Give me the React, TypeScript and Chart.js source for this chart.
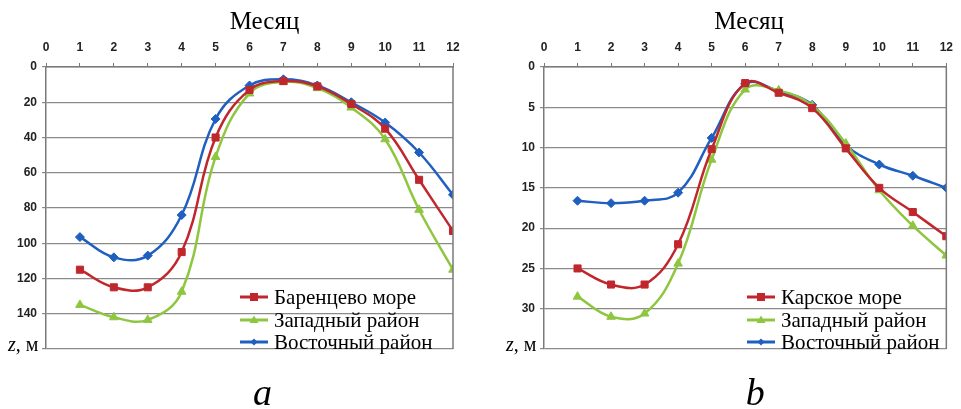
import React, { useEffect, useRef } from "react";
import { Chart, registerables } from "chart.js";

Chart.register(...registerables);

const months = [1, 2, 3, 4, 5, 6, 7, 8, 9, 10, 11, 12];

// Panel a — Barents Sea
const barentsDepth = [115, 125, 125, 105, 40, 13, 8, 11, 21, 35, 64, 93];
const westADepth = [135, 142, 143.5, 127.5, 51, 15, 8.5, 12, 23, 41, 81, 115];
const eastADepth = [96.5, 108, 107, 84, 29.5, 10.5, 7, 10.5, 20, 31.5, 48.5, 72.5];

// Panel b — Kara Sea
const karaDepth = [25, 27, 27, 22, 10.2, 2, 3.2, 5.1, 10.1, 15, 18, 21];
const westBDepth = [28.5, 31, 30.6, 24.4, 11.5, 2.8, 2.9, 4.8, 9.5, 15.3, 19.7, 23.4];
const eastBDepth = [16.6, 16.9, 16.6, 15.6, 8.8, 2.1, 3, 4.7, 9.7, 12.1, 13.5, 15];

const namesA = ["Баренцево море", "Западный район", "Восточный район"];
const namesB = ["Карское море", "Западный район", "Восточный район"];
const axisTitle = "Месяц";

const RED = "#C0272D";
const GREEN = "#8EC63F";
const BLUE = "#1F5FBF";
const AXIS = "#7a7a7a";

const styles = [
  { color: RED, point: "rect", radius: 5 },
  { color: GREEN, point: "triangle", radius: 5 },
  { color: BLUE, point: "rectRot", radius: 4.5 },
];

function makeDatasets(names: string[], series: number[][]) {
  return series.map((vals, i) => ({
    label: names[i],
    data: months.map((m, j) => ({ x: m, y: vals[j] })),
    borderColor: styles[i].color,
    backgroundColor: styles[i].color,
    pointStyle: styles[i].point,
    pointRadius: styles[i].radius,
    pointBorderWidth: 1,
    borderWidth: 2.5,
    tension: 0.4,
    fill: false,
  }));
}

function makeConfig(
  names: string[],
  series: number[][],
  yMax: number,
  yStep: number,
  rightPad: number,
  legendLineX: number,
  panelLetter: string,
  titleShift: number,
  letterShift: number
): any {
  const frame = {
    id: "frame",
    afterDraw(chart: any) {
      const { ctx, chartArea } = chart;
      const midX = (chartArea.left + chartArea.right) / 2;
      ctx.save();
      ctx.strokeStyle = AXIS;
      ctx.lineWidth = 1.5;
      ctx.beginPath();
      ctx.moveTo(chartArea.right, chartArea.top);
      ctx.lineTo(chartArea.right, chartArea.bottom);
      ctx.stroke();
      // axis title
      ctx.fillStyle = "#000";
      ctx.textAlign = "center";
      ctx.textBaseline = "middle";
      ctx.font = "25px 'Liberation Serif'";
      ctx.fillText(axisTitle, midX + titleShift, 22);
      // z, м label
      ctx.textBaseline = "middle";
      ctx.textAlign = "left";
      ctx.font = "italic 20px 'Liberation Serif'";
      const zx = chartArea.left - 38;
      const zy = chartArea.bottom - 3;
      ctx.fillText("z", zx, zy);
      const zw = ctx.measureText("z").width;
      ctx.font = "20px 'Liberation Serif'";
      ctx.fillText(", м", zx + zw, zy);
      // legend
      const rows = [297, 320, 342];
      chart.data.datasets.forEach((ds: any, i: number) => {
        const y = rows[i];
        ctx.strokeStyle = ds.borderColor;
        ctx.lineWidth = 3;
        ctx.beginPath();
        ctx.moveTo(legendLineX, y);
        ctx.lineTo(legendLineX + 28, y);
        ctx.stroke();
        ctx.fillStyle = ds.borderColor;
        const cx = legendLineX + 14;
        ctx.beginPath();
        if (ds.pointStyle === "rect") {
          ctx.rect(cx - 4, y - 4, 8, 8);
        } else if (ds.pointStyle === "triangle") {
          ctx.moveTo(cx, y - 4.5);
          ctx.lineTo(cx + 4.5, y + 3);
          ctx.lineTo(cx - 4.5, y + 3);
          ctx.closePath();
        } else {
          ctx.moveTo(cx, y - 3.5);
          ctx.lineTo(cx + 3.5, y);
          ctx.lineTo(cx, y + 3.5);
          ctx.lineTo(cx - 3.5, y);
          ctx.closePath();
        }
        ctx.fill();
        ctx.fillStyle = "#000";
        ctx.font = "21px 'Liberation Serif'";
        ctx.textBaseline = "middle";
        ctx.fillText(ds.label, legendLineX + 34, y + 1);
      });
      // panel letter
      ctx.font = "italic 38px 'Liberation Serif'";
      ctx.textAlign = "center";
      ctx.textBaseline = "alphabetic";
      ctx.fillText(panelLetter, midX + letterShift, 405);
      ctx.restore();
    },
  };

  return {
    type: "line",
    data: { datasets: makeDatasets(names, series) },
    options: {
      animation: false,
      responsive: false,
      devicePixelRatio: 1,
      layout: { padding: { left: 0, top: 0, right: rightPad, bottom: 60 } },
      plugins: {
        legend: { display: false },
        tooltip: { enabled: false },
      },
      scales: {
        x: {
          type: "linear",
          position: "top",
          min: 0,
          max: 12,
          ticks: {
            stepSize: 1,
            padding: 8,
            color: "#222",
            font: { family: "'Liberation Sans'", weight: "bold", size: 12 },
          },
          grid: { drawOnChartArea: false, drawTicks: true, tickLength: 4, color: AXIS },
          border: { display: true, color: AXIS, width: 1.5 },
          title: { display: false },
          afterFit(scale: any) {
            scale.height = 67;
          },
        },
        y: {
          type: "linear",
          reverse: true,
          min: 0,
          max: yMax,
          ticks: {
            stepSize: yStep,
            padding: 5,
            color: "#222",
            font: { family: "'Liberation Sans'", weight: "bold", size: 12 },
            callback: (v: number) => (v === yMax ? "" : String(v)),
          },
          grid: { color: "#8a8a8a", lineWidth: 1.2, tickLength: 4 },
          border: { display: true, color: AXIS, width: 1.5 },
          afterFit(scale: any) {
            scale.width = 46;
          },
        },
      },
    },
    plugins: [frame],
  };
}

function Panel(props: {
  left: number;
  width: number;
  names: string[];
  series: number[][];
  yMax: number;
  yStep: number;
  rightPad: number;
  legendLineX: number;
  letter: string;
  titleShift: number;
  letterShift: number;
}) {
  const ref = useRef<HTMLCanvasElement | null>(null);
  useEffect(() => {
    if (!ref.current) return;
    const chart = new Chart(
      ref.current,
      makeConfig(
        props.names,
        props.series,
        props.yMax,
        props.yStep,
        props.rightPad,
        props.legendLineX,
        props.letter,
        props.titleShift,
        props.letterShift
      )
    );
    return () => chart.destroy();
  }, []);
  return (
    <canvas
      ref={ref}
      width={props.width}
      height={409}
      style={{ position: "absolute", left: props.left, top: 0, width: props.width, height: 409 }}
    />
  );
}

export default function App() {
  return (
    <div
      style={{
        position: "fixed",
        left: 0,
        top: 0,
        width: 961,
        height: 409,
        background: "#fff",
        overflow: "hidden",
      }}
    >
      <Panel
        left={0}
        width={480}
        names={namesA}
        series={[barentsDepth, westADepth, eastADepth]}
        yMax={160}
        yStep={20}
        rightPad={27}
        legendLineX={240}
        letter="a"
        titleShift={15}
        letterShift={13}
      />
      <Panel
        left={498}
        width={463}
        names={namesB}
        series={[karaDepth, westBDepth, eastBDepth]}
        yMax={35}
        yStep={5}
        rightPad={8}
        legendLineX={249}
        letter="b"
        titleShift={4}
        letterShift={10}
      />
    </div>
  );
}
